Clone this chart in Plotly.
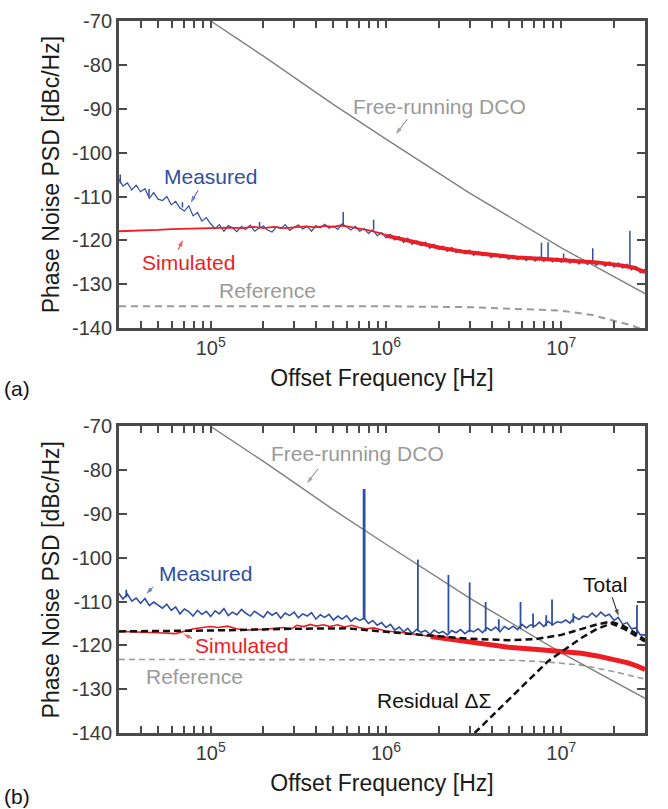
import math
import plotly.graph_objects as go

# ---------------- data ----------------
# frequency grid mantissas (Hz); grid spans 3e4 .. 3.16e7
MANT = [1.00, 1.06, 1.12, 1.19, 1.26, 1.33, 1.41, 1.50, 1.58, 1.68, 1.78, 1.88,
        2.00, 2.11, 2.24, 2.37, 2.51, 2.66, 2.82, 2.99, 3.16, 3.35, 3.55, 3.76,
        3.98, 4.22, 4.47, 4.73, 5.01, 5.31, 5.62, 5.96, 6.31, 6.68, 7.08, 7.50,
        7.94, 8.41, 8.91, 9.44]
freq_grid = [m * 10 ** d for d in (4, 5, 6, 7) for m in MANT if 2.9e4 <= m * 10 ** d <= 3.2e7]

# (a) measured PSD [dBc/Hz]
meas_a = [
    -106.0, -107.6, -106.9, -108.5, -107.4, -108.9, -108.2, -110.4, -109.1, -110.6, -110.9,
    -110.0, -111.9, -111.1, -112.6, -113.3, -112.1, -114.4, -113.6, -115.6, -114.8,
    -116.2, -117.3, -116.4, -117.9, -116.6, -117.1, -118.0, -116.8, -117.5, -116.5,
    -117.9, -117.2, -116.7, -117.6, -118.1, -116.9, -117.3, -116.4, -117.7, -117.0,
    -116.5, -117.4, -116.8, -117.9, -116.6, -117.1, -116.3, -117.2, -116.7, -117.5,
    -116.2, -116.9, -117.6, -116.8, -117.9, -117.3, -118.4, -117.6, -118.9, -118.2,
    -119.4, -118.6, -119.9, -119.1, -120.5, -119.5, -120.9, -120.1, -121.2, -120.4,
    -121.8, -120.9, -122.0, -121.3, -122.5, -121.6, -122.8, -122.1, -123.1, -122.2,
    -123.4, -122.6, -123.5, -122.9, -123.9, -123.0, -124.0, -123.3, -124.3, -123.4,
    -124.4, -123.6, -124.6, -123.7, -124.7, -123.8, -124.8, -123.9, -124.9, -124.0,
    -125.0, -124.1, -125.2, -124.3, -125.4, -124.4, -125.5, -124.6, -125.7, -124.8,
    -125.9, -124.9, -126.1, -125.1, -126.3, -125.4, -126.7, -125.9, -127.4, -126.6,
    -128.0]
# (a) spurs: frequency, floor, peak
spur_a_f = [3.05e4, 4.45e4, 6.9e4, 1.9e5, 5.7e5, 8.5e5, 7.7e6, 8.4e6, 1.03e7, 1.51e7, 2.46e7]
spur_a_lo = [-107.0, -110.0, -112.5, -117.0, -116.8, -117.5, -124.2, -124.2, -124.6, -125.0, -126.0]
spur_a_hi = [-105.0, -108.3, -111.3, -115.8, -113.5, -115.3, -120.5, -120.4, -123.0, -121.8, -117.8]

# (a) simulated
sim_a_f = [3e4, 4e4, 5e4, 6e4, 7e4, 8.5e4, 1e5, 1.25e5, 1.5e5, 1.75e5, 2e5, 2.3e5, 2.6e5,
           3e5, 3.5e5, 4e5, 4.5e5, 5e5, 5.5e5, 6e5, 7e5, 8e5, 9e5, 1e6]
sim_a_db = [-117.9, -117.8, -117.6, -117.4, -117.3, -117.3, -117.2, -117.1, -117.2, -116.9,
            -117.2, -116.9, -117.2, -117.0, -116.8, -117.0, -116.7, -116.9, -116.6, -116.8,
            -117.2, -117.7, -118.2, -118.8]
sim_a_thick_f = [1e6, 1.4e6, 2e6, 2.8e6, 4e6, 5.6e6, 8e6, 1.1e7, 1.6e7, 2.2e7, 2.6e7, 3e7]
sim_a_thick_db = [-118.9, -120.3, -121.6, -122.6, -123.3, -123.9, -124.2, -124.6, -125.0,
                  -125.7, -126.2, -127.2]

# free-running DCO (same in both panels)
dco_f = [1e5, 2e5, 5e5, 1e6, 3e6, 1e7, 3e7]
dco_db = [-70.0, -78.0, -89.0, -96.9, -109.2, -121.7, -132.1]

# (a) reference
ref_a_f = [3e4, 1e5, 1e6, 3e6, 5e6, 1e7, 1.5e7, 2e7, 2.5e7, 3e7]
ref_a_db = [-135.0, -135.0, -135.0, -135.2, -135.5, -136.0, -137.0, -138.2, -139.3, -140.5]

# (b) measured
meas_b = [
    -108.1, -109.4, -108.3, -109.9, -109.2, -110.4, -109.3, -110.9, -110.1, -110.7, -111.5,
    -110.6, -112.0, -111.2, -112.8, -111.7, -112.3, -113.3, -112.0, -112.9, -112.2,
    -113.4, -112.1, -112.8, -111.6, -113.2, -112.4, -113.0, -111.8, -112.6, -113.3,
    -112.2, -112.9, -113.6, -112.3, -113.1, -112.5, -113.8, -112.6, -113.2, -112.4,
    -113.7, -112.8, -113.3, -112.5, -114.0, -113.0, -113.6, -112.9, -114.2, -113.3,
    -114.0, -113.2, -114.5, -113.7, -114.3, -113.8, -115.0, -114.3, -115.4, -114.8,
    -115.9, -115.2, -116.5, -115.8, -116.9, -116.1, -117.3, -116.3, -117.0, -116.6,
    -117.5, -116.5, -117.2, -116.8, -117.6, -116.6, -117.1, -116.4, -117.3, -116.5,
    -116.9, -116.2, -117.1, -116.0, -116.6, -115.8, -116.9, -115.7, -116.3, -115.6,
    -116.4, -115.2, -116.0, -115.3, -115.6, -114.7, -115.7, -114.5, -115.3, -114.6,
    -114.8, -114.2, -114.9, -113.5, -114.1, -113.3, -113.6, -112.6, -113.5, -112.4,
    -113.3, -112.9, -114.3, -113.6, -115.2, -114.8, -116.2, -116.0, -117.6, -117.6,
    -119.0]
spur_b_f = [3.3e4, 1.52e6, 2.27e6, 3.0e6, 3.7e6, 4.4e6, 5.85e6, 6.9e6, 8.2e6, 8.85e6, 1.17e7, 2.7e7]
spur_b_lo = [-109.0, -116.8, -117.1, -117.0, -116.8, -116.6, -116.3, -116.0, -115.6, -115.5, -114.8, -117.2]
spur_b_hi = [-107.3, -100.4, -103.9, -105.6, -110.1, -114.0, -110.1, -112.7, -113.1, -109.5, -112.7, -110.8]
big_spur_f = [7.5e5]
big_spur_lo = [-114.0]
big_spur_hi = [-84.3]

# (b) simulated
sim_b_f = [3e4, 4e4, 5e4, 6.3e4, 7e4, 8e4, 9e4, 1e5, 1.1e5, 1.25e5, 1.4e5, 1.6e5, 1.8e5,
           2e5, 2.3e5, 2.6e5, 2.9e5, 3.1e5, 3.4e5, 3.7e5, 4e5, 4.4e5, 4.8e5, 5.3e5, 5.8e5,
           6.4e5, 7e5, 7.7e5, 8.5e5, 1e6, 1.2e6, 1.5e6, 1.8e6, 2e6]
sim_b_db = [-116.8, -116.9, -117.1, -117.3, -116.8, -116.2, -115.9, -115.7, -115.9, -115.6,
            -116.2, -116.5, -116.3, -116.4, -116.1, -115.9, -116.2, -115.4, -115.7, -115.2,
            -115.6, -115.3, -115.7, -115.3, -115.8, -115.4, -115.9, -116.2, -116.0, -116.7,
            -117.0, -117.5, -117.8, -118.2]
sim_b_thick_f = [1.8e6, 3e6, 5e6, 7e6, 1e7, 1.3e7, 1.6e7, 2e7, 2.4e7, 2.7e7, 3e7]
sim_b_thick_db = [-118.0, -119.3, -120.4, -120.9, -121.4, -121.8, -122.4, -123.2, -124.0,
                  -124.7, -125.5]

# (b) model: total and residual delta-sigma noise
total_f = [3e4, 1e5, 3e5, 6e5, 1e6, 2e6, 3e6, 5e6, 7e6, 1e7, 1.3e7, 1.6e7, 1.9e7, 2.2e7, 2.6e7, 3e7]
total_db = [-116.8, -116.6, -116.2, -116.1, -116.9, -118.0, -118.5, -118.8, -118.6, -117.6,
            -116.3, -115.2, -114.6, -115.3, -117.0, -118.7]
resid_f = [3.2e6, 5.4e6, 8.4e6, 1.3e7, 1.6e7, 1.93e7, 2.3e7, 3e7]
resid_db = [-140.0, -131.1, -123.6, -118.3, -116.2, -115.0, -116.3, -119.1]

# (b) reference
ref_b_f = [3e4, 1e6, 3e6, 5.4e6, 8.4e6, 1.3e7, 2e7, 3e7]
ref_b_db = [-123.2, -123.2, -123.3, -123.4, -123.8, -124.5, -126.0, -127.7]

# axis ticks: decades labelled, 2..9 multiples unlabelled
tick_vals = [m * 10 ** d for d in (4, 5, 6, 7) for m in range(1, 10) if 3e4 <= m * 10 ** d <= 3e7]
tick_text = ['10<sup>%d</sup>' % round(math.log10(v)) if abs(math.log10(v) - round(math.log10(v))) < 1e-9
             else '' for v in tick_vals]
y_ticks = [-140, -130, -120, -110, -100, -90, -80, -70]
y_text = ['-140', '-130', '-120', '-110', '-100', '-90', '-80', '-70']

# ---------------- styling ----------------
BLUE = '#2f4fa2'
RED = '#ee1d24'
GRAY_LINE = '#808080'
GRAY_DASH = '#9a9a9a'
GRAY_TEXT = '#9a9a9a'
AXIS = '#4a4a4a'
FONT = 'Liberation Sans, Arial, Helvetica, sans-serif'


def spur_xy(fs, lo, hi):
    xs, ys = [], []
    for f, a, b in zip(fs, lo, hi):
        xs += [f, f, None]
        ys += [a, b, None]
    return xs, ys


fig = go.Figure()


def add(x, y, xa, ya, color, width, dash=None):
    fig.add_trace(go.Scatter(x=x, y=y, mode='lines', xaxis=xa, yaxis=ya, hoverinfo='skip',
                             line=dict(color=color, width=width, dash=dash)))


# panel (a)
add(ref_a_f, ref_a_db, 'x', 'y', GRAY_DASH, 2, '7px,5px')
add(dco_f, dco_db, 'x', 'y', GRAY_LINE, 1.4)
add(freq_grid, meas_a, 'x', 'y', BLUE, 1.2)
sx, sy = spur_xy(spur_a_f, spur_a_lo, spur_a_hi)
add(sx, sy, 'x', 'y', BLUE, 1.5)
add(sim_a_f, sim_a_db, 'x', 'y', RED, 1.8)
add(sim_a_thick_f, sim_a_thick_db, 'x', 'y', RED, 4)

# panel (b)
add(ref_b_f, ref_b_db, 'x2', 'y2', GRAY_DASH, 1.6, '6px,4px')
add(dco_f, dco_db, 'x2', 'y2', GRAY_LINE, 1.4)
add(freq_grid, meas_b, 'x2', 'y2', BLUE, 1.6)
sx, sy = spur_xy(spur_b_f, spur_b_lo, spur_b_hi)
add(sx, sy, 'x2', 'y2', BLUE, 1.8)
sx, sy = spur_xy(big_spur_f, big_spur_lo, big_spur_hi)
add(sx, sy, 'x2', 'y2', BLUE, 2.8)
add(sim_b_f, sim_b_db, 'x2', 'y2', RED, 1.6)
add(sim_b_thick_f, sim_b_thick_db, 'x2', 'y2', RED, 5)
add(total_f, total_db, 'x2', 'y2', '#111111', 2.5, '7px,4px')
add(resid_f, resid_db, 'x2', 'y2', '#111111', 2.5, '7px,4px')

xrange = [math.log10(3e4), math.log10(3e7)]


def xaxis_spec(anchor):
    return dict(type='log', range=xrange, tickmode='array', tickvals=tick_vals,
                ticktext=tick_text, anchor=anchor,
                showline=True, linewidth=3, linecolor=AXIS, mirror='allticks',
                ticks='inside', ticklen=7, tickwidth=2, tickcolor=AXIS,
                showgrid=False, zeroline=False,
                tickfont=dict(size=20, color='#3a3a3a', family=FONT),
                title=dict(text='Offset Frequency [Hz]', standoff=12,
                           font=dict(size=23, color='#1a1a1a', family=FONT)))


def yaxis_spec(anchor, domain):
    return dict(range=[-140, -70], tickmode='array', tickvals=y_ticks, ticktext=y_text,
                anchor=anchor, domain=domain,
                showline=True, linewidth=3, linecolor=AXIS, mirror='allticks',
                ticks='inside', ticklen=8, tickwidth=2, tickcolor=AXIS,
                showgrid=False, zeroline=False,
                tickfont=dict(size=20, color='#3a3a3a', family=FONT),
                title=dict(text='Phase Noise PSD [dBc/Hz]', standoff=6,
                           font=dict(size=23, color='#1a1a1a', family=FONT)))


fig.update_layout(
    width=668, height=809,
    margin=dict(l=119, r=23, t=10, b=76),
    paper_bgcolor='white', plot_bgcolor='white',
    showlegend=False,
    font=dict(family=FONT),
    xaxis=xaxis_spec('y'),
    yaxis=yaxis_spec('x', [0.5685, 1.0]),
    xaxis2=xaxis_spec('y2'),
    yaxis2=yaxis_spec('x2', [0.0, 0.4306]),
)

L = math.log10
ann = []


def text(t, f, db, color, xr, yr):
    ann.append(dict(text=t, x=L(f), y=db, xref=xr, yref=yr, showarrow=False,
                    xanchor='center', yanchor='middle',
                    font=dict(size=21, color=color, family=FONT)))


def arrow(f_tail, db_tail, f_head, db_head, color, xr, yr):
    # pointer drawn as a short line ending in an arrow-shaped marker
    fig.add_trace(go.Scatter(x=[f_tail, f_head], y=[db_tail, db_head], mode='lines+markers',
                             xaxis=xr, yaxis=yr, hoverinfo='skip',
                             line=dict(color=color, width=1),
                             marker=dict(symbol='arrow', angleref='previous', size=[0, 7],
                                         color=color, line=dict(width=0))))


# panel (a) labels
text('Free-running DCO', 2.03e6, -89.5, GRAY_TEXT, 'x', 'y')
arrow(1.32e6, -92.4, 1.14e6, -95.8, GRAY_LINE, 'x', 'y')
text('Measured', 1.0e5, -105.4, BLUE, 'x', 'y')
arrow(8.47e4, -108.6, 7.7e4, -111.4, BLUE, 'x', 'y')
text('Simulated', 7.5e4, -125.0, RED, 'x', 'y')
arrow(6.52e4, -122.1, 6.95e4, -119.9, RED, 'x', 'y')
text('Reference', 2.1e5, -131.3, GRAY_TEXT, 'x', 'y')

# panel (b) labels
text('Free-running DCO', 6.84e5, -76.1, GRAY_TEXT, 'x2', 'y2')
arrow(4.09e5, -79.7, 3.55e5, -83.0, GRAY_LINE, 'x2', 'y2')
text('Measured', 9.4e4, -103.6, BLUE, 'x2', 'y2')
arrow(4.69e4, -106.7, 4.3e4, -108.2, BLUE, 'x2', 'y2')
text('Simulated', 1.49e5, -120.0, RED, 'x2', 'y2')
arrow(7.83e4, -118.4, 7.0e4, -117.4, RED, 'x2', 'y2')
text('Reference', 8.04e4, -127.0, GRAY_TEXT, 'x2', 'y2')
text('Total', 1.77e7, -106.1, '#111111', 'x2', 'y2')
arrow(1.95e7, -109.0, 2.12e7, -113.3, '#111111', 'x2', 'y2')
text('Residual ΔΣ', 1.9e6, -132.6, '#111111', 'x2', 'y2')

# panel tags
ann.append(dict(text='(a)', x=-0.194, y=0.484, xref='paper', yref='paper', showarrow=False,
                xanchor='center', yanchor='middle', font=dict(size=21, color='#111111', family=FONT)))
ann.append(dict(text='(b)', x=-0.194, y=-0.0885, xref='paper', yref='paper', showarrow=False,
                xanchor='center', yanchor='middle', font=dict(size=21, color='#111111', family=FONT)))

fig.update_layout(annotations=ann)
fig.write_html('out.html')
